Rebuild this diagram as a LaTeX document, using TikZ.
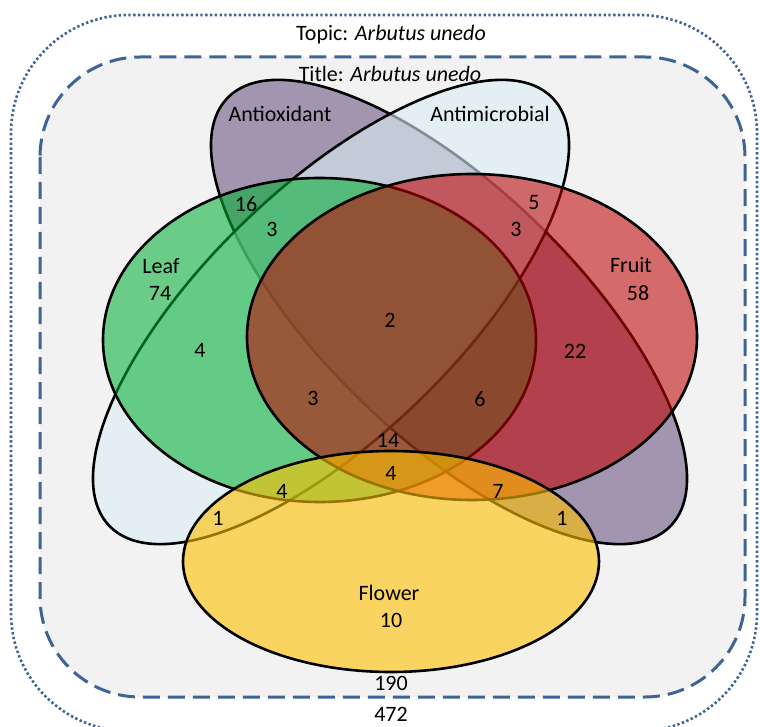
\documentclass[tikz,border=0pt]{standalone}
\usepackage{fontspec}
\setmainfont{Carlito}
\definecolor{boxblue}{RGB}{62,100,150}
\definecolor{bggray}{RGB}{242,242,242}
\definecolor{oxcol}{RGB}{96,74,123}
\definecolor{micol}{RGB}{218,238,243}
\definecolor{leafcol}{RGB}{0,176,50}
\definecolor{fruitcol}{RGB}{192,0,0}
\definecolor{flowcol}{RGB}{255,192,0}
\tikzset{
  setshape/.style={draw=black, line width=2.6pt},
  lbl/.style={inner sep=0pt, text height=14.2pt, text depth=0pt, anchor=center, text=black},
}
\begin{document}
\begin{tikzpicture}[x=1pt,y=-1pt, font=\fontsize{22}{26}\selectfont]
\useasboundingbox (0,0) rectangle (760,727);
\fill[white] (0,0) rectangle (760,727);
% outer dotted box
\draw[boxblue, line width=2.6pt, dash pattern=on 2.4pt off 2.4pt, rounded corners=118pt] (11,15) rectangle (757,731);
% inner dashed box
\draw[boxblue, fill=bggray, line width=3pt, dash pattern=on 17pt off 8pt, rounded corners=100pt] (40,57) rectangle (745,697);
% sets
\path[setshape, fill=oxcol, fill opacity=0.55, rotate around={-44:(449,312)}] (449,312) ellipse [x radius=308pt, y radius=125pt];
\path[setshape, fill=micol, fill opacity=0.6, rotate around={44:(331,312)}] (331,312) ellipse [x radius=308pt, y radius=125pt];
\path[setshape, fill=leafcol, fill opacity=0.56] (319.5,340) ellipse [x radius=216.5pt, y radius=162pt];
\path[setshape, fill=fruitcol, fill opacity=0.56] (472,337) ellipse [x radius=225pt, y radius=163pt];
\path[setshape, fill=flowcol, fill opacity=0.6] (391,561.5) ellipse [x radius=208pt, y radius=110.5pt];
% texts
\node[lbl] (topic) at (391,33) {Topic: \textit{Arbutus unedo}};
\node[lbl] (title) at (390,74) {Title: \textit{Arbutus unedo}};
\node[lbl] (antiox) at (280,114.5) {Antioxidant};
\node[lbl] (antimic) at (490,114.5) {Antimicrobial};
\node[lbl] (n16) at (246,204) {16};
\node[lbl] (n3a) at (272,229) {3};
\node[lbl] (n5) at (534,202) {5};
\node[lbl] (n3b) at (516,229) {3};
\node[lbl] (leaf) at (161,266) {Leaf};
\node[lbl] (n74) at (160,293) {74};
\node[lbl] (fruit) at (631,265) {Fruit};
\node[lbl] (n58) at (638,293) {58};
\node[lbl] (n2) at (390,320) {2};
\node[lbl] (n4a) at (200,350) {4};
\node[lbl] (n22) at (575,351) {22};
\node[lbl] (n3c) at (313,398) {3};
\node[lbl] (n6) at (480,399) {6};
\node[lbl] (n14) at (388,440) {14};
\node[lbl] (n4b) at (391,473) {4};
\node[lbl] (n4c) at (282,491) {4};
\node[lbl] (n7) at (498,491) {7};
\node[lbl] (n1a) at (218,518) {1};
\node[lbl] (n1b) at (562,518) {1};
\node[lbl] (flower) at (389,593) {Flower};
\node[lbl] (n10) at (391,620) {10};
\node[lbl] (n190) at (391,683) {190};
\node[lbl] (n472) at (391,714) {472};
\end{tikzpicture}
\end{document}
